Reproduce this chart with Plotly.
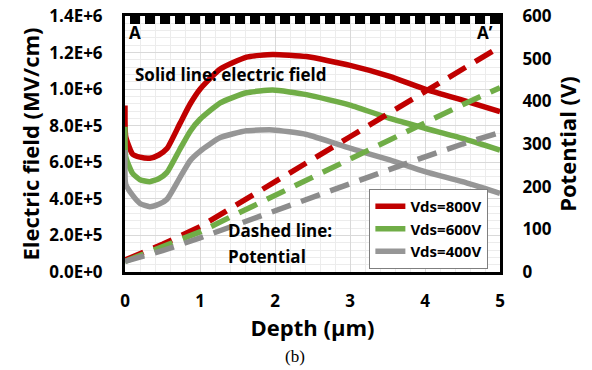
import plotly.graph_objects as go

# ---------------- data ----------------
depth_field = [0, 0.01, 0.1, 0.2, 0.33, 0.45, 0.56, 0.73, 0.87, 1.0, 1.27, 1.62, 1.97, 2.42, 3.0, 3.53, 4.0, 4.5, 5.0]
field_800 = [9.1e5, 7.4e5, 6.45e5, 6.28e5, 6.22e5, 6.4e5, 6.75e5, 8.1e5, 9.2e5, 1.0e6, 1.11e6, 1.175e6, 1.19e6, 1.178e6, 1.13e6, 1.07e6, 1.0e6, 9.4e5, 8.77e5]
field_600 = [7.95e5, 6.3e5, 5.4e5, 5.05e5, 4.94e5, 5.1e5, 5.45e5, 6.7e5, 7.7e5, 8.35e5, 9.25e5, 9.8e5, 9.95e5, 9.7e5, 9.13e5, 8.4e5, 7.86e5, 7.31e5, 6.67e5]
field_400 = [6.67e5, 4.8e5, 4.2e5, 3.75e5, 3.57e5, 3.7e5, 3.98e5, 5.15e5, 6.1e5, 6.6e5, 7.35e5, 7.72e5, 7.77e5, 7.52e5, 6.77e5, 6.13e5, 5.49e5, 4.94e5, 4.3e5]

depth_pot = [0, 0.5, 1, 1.5, 2, 2.5, 3, 3.5, 4, 4.5, 5]
pot_800 = [28, 65, 106, 158, 211, 264, 317, 370, 423, 476, 528]
pot_600 = [25, 58, 94, 137, 180, 222, 265, 307, 350, 392, 432]
pot_400 = [25, 50, 80, 112, 143, 175, 206, 238, 270, 300, 327]

series_names = ["Vds=800V", "Vds=600V", "Vds=400V"]
series_colors = ["#c00000", "#70ad47", "#969696"]
dash_colors = ["#c00000", "#70ad47", "#8c8c8c"]

left_tickvals = [0, 2e5, 4e5, 6e5, 8e5, 1.0e6, 1.2e6, 1.4e6]
left_ticktext = ["0.0E+0", "2.0E+5", "4.0E+5", "6.0E+5", "8.0E+5", "1.0E+6", "1.2E+6", "1.4E+6"]

FONT = "Open Sans"

fig = go.Figure()

for name, col, f in zip(series_names, series_colors, [field_800, field_600, field_400]):
    fig.add_trace(go.Scatter(x=depth_field, y=f, mode="lines", name=name,
                             line=dict(color=col, width=5.5, shape="spline", smoothing=0.5),
                             xaxis="x", yaxis="y"))

for name, col, p in zip(series_names, dash_colors, [pot_800, pot_600, pot_400]):
    fig.add_trace(go.Scatter(x=depth_pot, y=p, mode="lines", name=name, showlegend=False,
                             line=dict(color=col, width=5.5, dash="20px,11px"),
                             xaxis="x", yaxis="y2"))

# invisible trace to materialise the top axis
fig.add_trace(go.Scatter(x=[0, 5], y=[0, 0], mode="lines", showlegend=False,
                         line=dict(width=0), hoverinfo="skip", xaxis="x2", yaxis="y"))

tickfont = dict(family=FONT, size=17, color="black", weight="bold")
titlefont = dict(family=FONT, size=22, color="black", weight="bold")

fig.update_layout(
    width=592, height=370,
    margin=dict(l=125, r=92, t=16, b=98, autoexpand=False),
    paper_bgcolor="white", plot_bgcolor="white",
    font=dict(family=FONT, color="black"),
    xaxis=dict(range=[0, 5], dtick=1, tick0=0, showline=True, linewidth=3, linecolor="black",
               showgrid=True, gridcolor="#d9d9d9", gridwidth=1, zeroline=False,
               minor=dict(dtick=0.2, showgrid=True, gridcolor="#ececec", gridwidth=1),
               ticks="", ticklabelstandoff=12, tickfont=tickfont, automargin=False,
               title=dict(text="Depth (μm)", font=titlefont, standoff=2)),
    xaxis2=dict(range=[0, 5], overlaying="x", side="top", showline=True, linewidth=3,
                linecolor="black", ticks="inside", ticklen=8, tickwidth=10, tickcolor="black",
                tick0=0.133, dtick=0.2, showticklabels=False, showgrid=False, zeroline=False,
                automargin=False),
    yaxis=dict(range=[0, 1.4e6], tickvals=left_tickvals, ticktext=left_ticktext,
               showline=True, linewidth=3, linecolor="black", showgrid=True,
               gridcolor="#d9d9d9", gridwidth=1, zeroline=False,
               minor=dict(dtick=4e4, showgrid=True, gridcolor="#ececec", gridwidth=1),
               ticks="", ticklabelstandoff=16, tickfont=tickfont, automargin=False,
               title=dict(text="Electric field (MV/cm)", font=titlefont, standoff=4)),
    yaxis2=dict(range=[0, 600], dtick=100, overlaying="y", side="right", showline=True,
                linewidth=3, linecolor="black", showgrid=False, zeroline=False, ticks="",
                ticklabelstandoff=16, tickfont=tickfont, automargin=False,
                title=dict(text="Potential (V)", font=titlefont, standoff=4)),
    legend=dict(x=0.969, y=0.012, xanchor="right", yanchor="bottom",
                bgcolor="white", bordercolor="#7f7f7f", borderwidth=1,
                font=dict(family=FONT, size=15, color="black", weight="bold"),
                itemwidth=30, tracegroupgap=0),
    showlegend=True,
)

ann_font = dict(family=FONT, size=17, color="black", weight="bold")
fig.add_annotation(text="A", xref="paper", yref="paper", x=0.027, y=0.934,
                   showarrow=False, font=ann_font, xanchor="center", yanchor="middle")
fig.add_annotation(text="A’", xref="paper", yref="paper", x=0.96, y=0.934,
                   showarrow=False, font=ann_font, xanchor="center", yanchor="middle")
fig.add_annotation(text="Solid line: electric field", xref="paper", yref="paper", x=0.022, y=0.77,
                   showarrow=False, font=ann_font, xanchor="left", yanchor="middle")
fig.add_annotation(text="Dashed line:", xref="paper", yref="paper", x=0.27, y=0.164,
                   showarrow=False, font=ann_font, xanchor="left", yanchor="middle")
fig.add_annotation(text="Potential", xref="paper", yref="paper", x=0.27, y=0.0625,
                   showarrow=False, font=ann_font, xanchor="left", yanchor="middle")
fig.add_annotation(text="(b)", xref="paper", yref="paper", x=0.453, y=-0.33,
                   showarrow=False, font=dict(family="Liberation Serif", size=17, color="black"),
                   xanchor="center", yanchor="middle")

fig.write_html("out.html", config={"displayModeBar": False},
               post_script="document.body.style.margin='0';")
